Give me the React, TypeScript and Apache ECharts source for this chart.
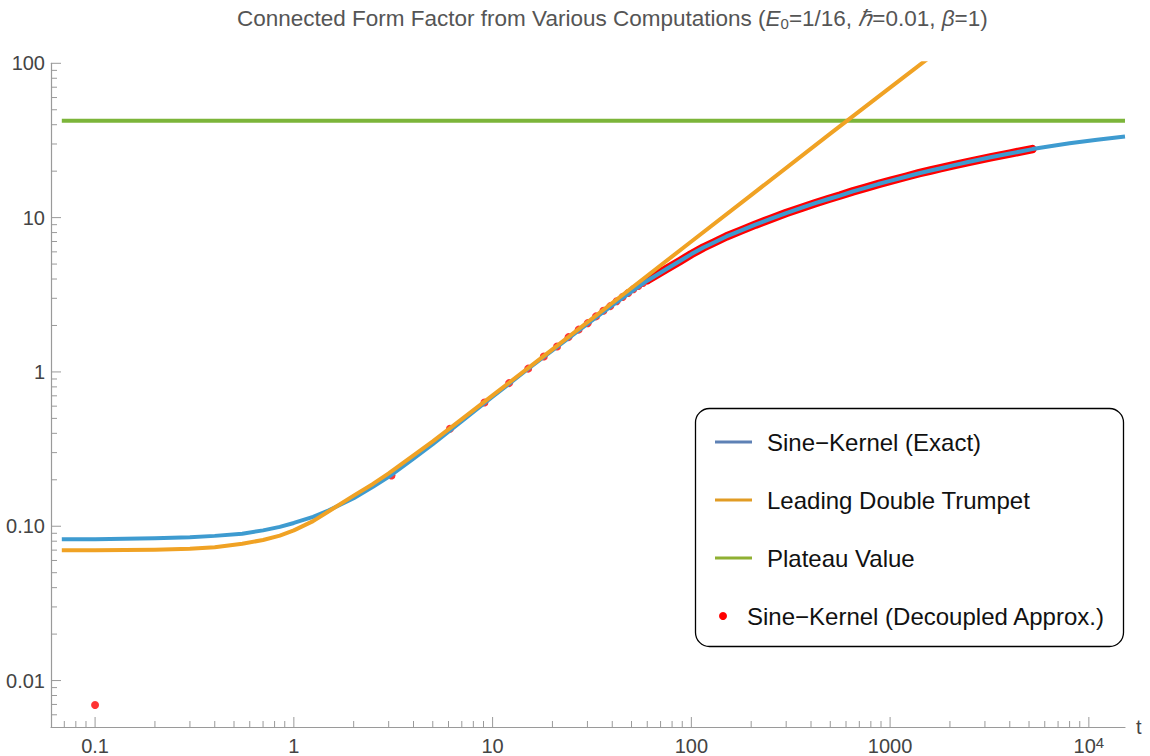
import React, { useEffect, useRef } from "react";
import * as echarts from "echarts";

// ---- Data ----
const exactT = [0.068, 0.1, 0.2, 0.3, 0.4, 0.55, 0.7, 0.85, 1, 1.25, 1.5, 2, 2.5, 3, 4, 5, 7, 10, 15, 20, 30, 40, 50, 60, 75, 88, 100, 115, 130, 150, 176, 210, 250, 300, 360, 420, 490, 560, 650, 750, 870, 1000, 1200, 1400, 1600, 1800, 2100, 2500, 3200, 4000, 5200, 6500, 8000, 11000, 15200];
const exactY = [0.0822, 0.0825, 0.0835, 0.0848, 0.0866, 0.0895, 0.094, 0.099, 0.105, 0.115, 0.127, 0.152, 0.18, 0.209, 0.274, 0.34, 0.48, 0.69, 1.04, 1.38, 2.05, 2.7, 3.32, 3.9, 4.65, 5.25, 5.8, 6.4, 6.9, 7.55, 8.2, 9.0, 9.8, 10.7, 11.6, 12.4, 13.2, 13.9, 14.8, 15.6, 16.5, 17.3, 18.4, 19.4, 20.2, 20.9, 21.9, 23.0, 24.6, 26.0, 27.8, 29.1, 30.3, 32.0, 33.6];

const trumpetT = [0.068, 0.1, 0.2, 0.3, 0.4, 0.55, 0.7, 0.85, 1, 1.25, 1.5, 2, 2.5, 3, 4, 5, 7, 10, 20, 50, 100, 200, 500, 1000, 2000];
const trumpetY = [0.0698, 0.07, 0.0705, 0.0715, 0.0732, 0.077, 0.0815, 0.087, 0.094, 0.108, 0.125, 0.158, 0.188, 0.22, 0.288, 0.355, 0.495, 0.705, 1.4, 3.5, 7.0, 14.0, 35.0, 69.5, 138];

const plateauT = [0.068, 15200];
const plateauY = [42.4, 42.4];

const approxDotT = [0.1, 3.1, 6.1, 9.1, 12.1, 15.1, 18.1, 21.1, 24.1, 27.1, 30.1, 33.1, 36.1, 39.1, 42.1, 45.1, 48.1, 51.1, 54.1, 57.1, 60.1];
const approxDotY = [0.00695, 0.213, 0.428, 0.634, 0.846, 1.05, 1.26, 1.46, 1.68, 1.88, 2.07, 2.29, 2.49, 2.67, 2.87, 3.06, 3.25, 3.43, 3.6, 3.77, 3.93];

// dense part of the decoupled approximation (points overlap into a band)
const approxBandT = [60.1, 75, 88, 100, 115, 130, 150, 176, 210, 250, 300, 360, 420, 490, 560, 650, 750, 870, 1000, 1200, 1400, 1600, 1800, 2100, 2500, 3200, 4000, 5200];
const approxBandY = [3.93, 4.65, 5.25, 5.8, 6.4, 6.9, 7.55, 8.2, 9.0, 9.8, 10.7, 11.6, 12.4, 13.2, 13.9, 14.8, 15.6, 16.5, 17.3, 18.4, 19.4, 20.2, 20.9, 21.9, 23.0, 24.6, 26.0, 27.8];

const xTickLabels: Record<string, string> = { "-1": "0.1", "0": "1", "1": "10", "2": "100", "3": "1000", "4": "10{sup|4}" };
const yTickLabels: Record<string, string> = { "-2": "0.01", "-1": "0.10", "0": "1", "1": "10", "2": "100" };

const X_MIN = 0.06;
const X_MAX = 15200;
const Y_MIN = 0.005;
const Y_MAX = 100;

const FONT = '"Liberation Sans", Arial, Helvetica, sans-serif';
const AXIS_COLOR = "#9a9a9a";
const LABEL_COLOR = "#444";

const pairs = (xs: number[], ys: number[]) => xs.map((x, i) => [x, ys[i]]);

function makeTicks(min: number, max: number) {
  const major: number[] = [];
  const minor: number[] = [];
  for (let k = -4; k <= 6; k++) {
    for (let m = 1; m <= 9; m++) {
      const v = m * Math.pow(10, k);
      if (v > min * 1.02 && v < max * 0.999) {
        if (m === 1) major.push(v);
        else minor.push(v);
      }
    }
  }
  return { major, minor };
}

function expOf(v: number): string | null {
  const l = Math.log10(v);
  const e = Math.round(l);
  return Math.abs(l - e) < 1e-6 ? String(e) : null;
}

export default function App() {
  const ref = useRef<HTMLDivElement>(null);
  useEffect(() => {
    if (!ref.current) return;
    const chart = echarts.init(ref.current, undefined, { renderer: "svg" });
    const xt = makeTicks(X_MIN, X_MAX);
    const yt = makeTicks(Y_MIN, Y_MAX);
    const xTickData = [
      ...xt.major.map((v) => [v, Y_MIN, 10]),
      ...xt.minor.map((v) => [v, Y_MIN, 6]),
    ];
    const yTickData = [
      ...yt.major.map((v) => [X_MIN, v, 10]),
      [X_MIN, Y_MAX, 10],
      ...yt.minor.map((v) => [X_MIN, v, 6]),
    ];
    const tickStyle = { stroke: AXIS_COLOR, lineWidth: 1 };

    const legendItems = [
      { y: 442, color: "#5e81b5", text: "Sine\u2212Kernel (Exact)" },
      { y: 500, color: "#e19c24", text: "Leading Double Trumpet" },
      { y: 558, color: "#8fb032", text: "Plateau Value" },
    ];

    chart.setOption({
      animation: false,
      backgroundColor: "#ffffff",
      title: {
        text: "Connected Form Factor from Various Computations ({i|E}{sub|0}=1/16, {i|\u210F}=0.01, {i|\u03B2}=1)",
        left: 237,
        top: 5,
        padding: 0,
        textStyle: {
          fontFamily: FONT,
          fontSize: 22.5,
          fontWeight: "normal",
          color: "#555",
          lineHeight: 26,
          rich: {
            i: { fontFamily: FONT, fontSize: 22.5, fontStyle: "italic", color: "#555", lineHeight: 26 },
            sub: { fontFamily: FONT, fontSize: 15, color: "#555", lineHeight: 14, verticalAlign: "bottom" },
          },
        },
      },
      grid: { left: 51, right: 25, top: 63.3, bottom: 29, containLabel: false, outerBoundsMode: "none" },
      xAxis: {
        type: "log",
        logBase: 10,
        min: X_MIN,
        max: X_MAX,
        name: "t",
        nameLocation: "end",
        nameGap: 11,
        nameTextStyle: { fontFamily: FONT, fontSize: 20, color: LABEL_COLOR, verticalAlign: "middle" },
        axisLine: { show: true, lineStyle: { color: AXIS_COLOR, width: 1.2 } },
        axisTick: { show: false },
        splitLine: { show: false },
        minorTick: { show: false },
        axisLabel: {
          show: true,
          margin: 8,
          fontFamily: FONT,
          fontSize: 20,
          color: LABEL_COLOR,
          lineHeight: 21,
          rich: {
            sup: { fontFamily: FONT, fontSize: 15, color: LABEL_COLOR, lineHeight: 11, verticalAlign: "top" },
          },
          formatter: (v: number) => {
            const e = expOf(v);
            return e !== null && xTickLabels[e] ? xTickLabels[e] : "";
          },
        },
      },
      yAxis: {
        type: "log",
        logBase: 10,
        min: Y_MIN,
        max: Y_MAX,
        axisLine: { show: true, lineStyle: { color: AXIS_COLOR, width: 1.2 } },
        axisTick: { show: false },
        splitLine: { show: false },
        minorTick: { show: false },
        axisLabel: {
          show: true,
          margin: 6,
          fontFamily: FONT,
          fontSize: 20,
          color: LABEL_COLOR,
          formatter: (v: number) => {
            const e = expOf(v);
            return e !== null && yTickLabels[e] ? yTickLabels[e] : "";
          },
        },
      },
      series: [
        {
          name: "xTicks",
          type: "custom",
          silent: true,
          z: 1,
          encode: { x: 0, y: 1 },
          data: xTickData,
          renderItem: (_p: any, api: any) => {
            const v = api.value(0);
            const len = api.value(2);
            const pt = api.coord([v, Y_MIN]);
            return { type: "line", shape: { x1: pt[0], y1: pt[1], x2: pt[0], y2: pt[1] - len }, style: tickStyle };
          },
        },
        {
          name: "yTicks",
          type: "custom",
          silent: true,
          z: 1,
          encode: { x: 0, y: 1 },
          data: yTickData,
          renderItem: (_p: any, api: any) => {
            const v = api.value(1);
            const len = api.value(2);
            const pt = api.coord([X_MIN, v]);
            return { type: "line", shape: { x1: pt[0], y1: pt[1], x2: pt[0] + len, y2: pt[1] }, style: tickStyle };
          },
        },
        {
          name: "Sine\u2212Kernel (Decoupled Approx.)",
          type: "scatter",
          z: 2,
          symbol: "circle",
          symbolSize: 8,
          itemStyle: { color: "#ff0000" },
          data: pairs(approxDotT, approxDotY),
        },
        {
          name: "Sine\u2212Kernel (Decoupled Approx.) band",
          type: "line",
          z: 2,
          showSymbol: false,
          lineStyle: { color: "#ff0000", width: 8.5, cap: "round", join: "round" },
          data: pairs(approxBandT, approxBandY),
        },
        {
          name: "Sine\u2212Kernel (Exact)",
          type: "line",
          z: 3,
          showSymbol: false,
          lineStyle: { color: "#3e9bd0", width: 4, join: "round" },
          data: pairs(exactT, exactY),
        },
        {
          name: "Plateau Value",
          type: "line",
          z: 3,
          showSymbol: false,
          lineStyle: { color: "#7cb53a", width: 4 },
          data: pairs(plateauT, plateauY),
        },
        {
          name: "Leading Double Trumpet",
          type: "line",
          z: 4,
          showSymbol: false,
          lineStyle: { color: "#f0a224", width: 4, join: "round" },
          data: pairs(trumpetT, trumpetY),
        },
      ],
      graphic: [
        {
          type: "rect",
          z: 100,
          shape: { x: 695.5, y: 408.5, width: 428, height: 238, r: 14 },
          style: { fill: "#ffffff", stroke: "#000000", lineWidth: 1.3 },
        },
        ...legendItems.map((it) => ({
          type: "line",
          z: 101,
          shape: { x1: 715, y1: it.y, x2: 752, y2: it.y },
          style: { stroke: it.color, lineWidth: 3 },
        })),
        ...legendItems.map((it) => ({
          type: "text",
          z: 101,
          x: 767,
          y: it.y,
          style: { text: it.text, fontFamily: FONT, fontSize: 24, fill: "#111", verticalAlign: "middle", align: "left" },
        })),
        { type: "circle", z: 101, shape: { cx: 723, cy: 616, r: 4 }, style: { fill: "#ff0000" } },
        {
          type: "text",
          z: 101,
          x: 747,
          y: 616,
          style: { text: "Sine\u2212Kernel (Decoupled Approx.)", fontFamily: FONT, fontSize: 24, fill: "#111", verticalAlign: "middle", align: "left" },
        },
      ],
    });
    return () => chart.dispose();
  }, []);
  return <div ref={ref} style={{ position: "fixed", left: 0, top: 0, width: 1150, height: 756 }} />;
}
